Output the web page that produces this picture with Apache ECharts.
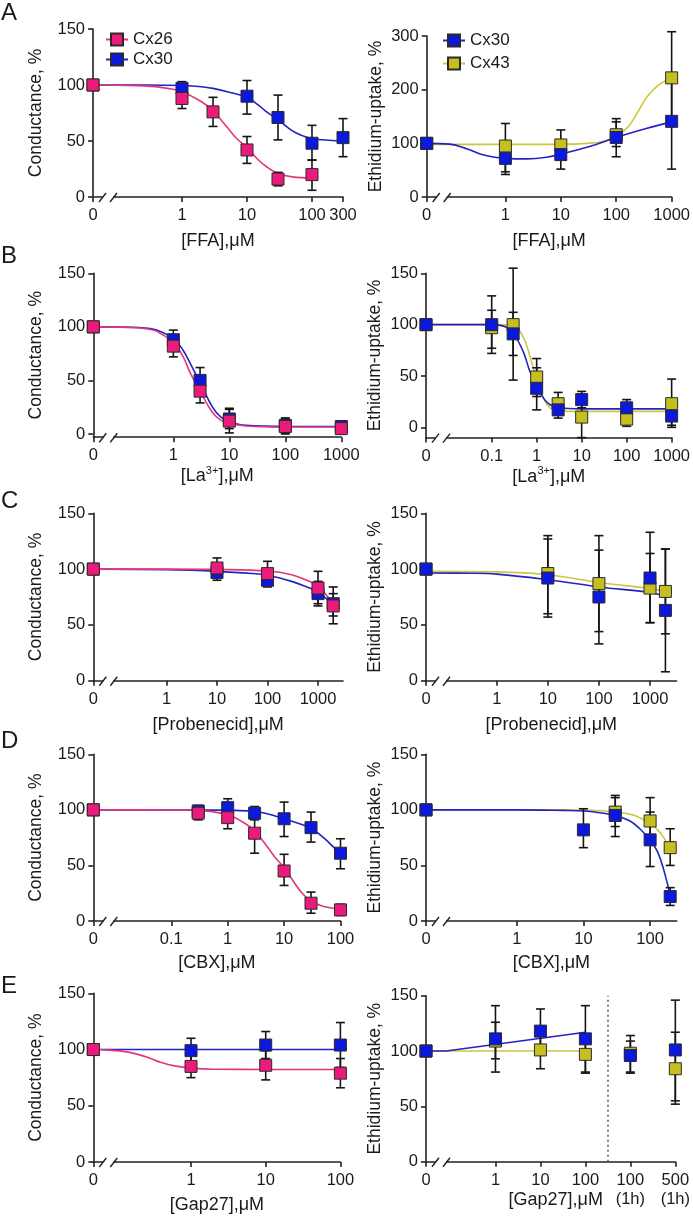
<!DOCTYPE html>
<html><head><meta charset="utf-8">
<script src="https://cdn.jsdelivr.net/npm/echarts@6/dist/echarts.min.js"></script>
<style>html,body{margin:0;padding:0;background:#fff}#c{width:693px;height:1216px}</style>
</head><body><div id="c"></div><script>
// ===== DATA =====
// points: [concentration, mean, errLow, errHigh]; 0 = vehicle (plotted at the axis break)
// fits: [concentration, value]
const Y_TICKS_150 = [0, 50, 100, 150];
const Y_TICKS_300 = [0, 100, 200, 300];
const Y_NAME_LEFT = 'Conductance, %';
const Y_NAME_RIGHT = 'Ethidium-uptake, %';
const X_NAMES = ['[FFA],μM', '[La{sup|3+}],μM', '[Probenecid],μM', '[CBX],μM', '[Gap27],μM'];
const LETTERS = ['A', 'B', 'C', 'D', 'E'];

// A: FFA
const A_L_X_TICKS = [0, 1, 10, 100, 300];
const A_L_CX26 = [[0,100,100,100],[1,88,79,97],[3,76,63,89],[10,42,30,54],[30,16,10,22],[100,20,6,33]];
const A_L_CX30 = [[0,100,100,100],[1,97,91,103],[10,90,74,104],[30,71,51,91],[100,48,33,64],[300,53,36,70]];
const A_L_CX26_FIT = [[0,100],[0.1,99.8],[0.3,99],[0.6,97],[1,94],[2,85],[3,77],[5,62],[7,52],[10,44],[15,33],[20,27],[30,21],[50,18],[100,17]];
const A_L_CX30_FIT = [[0,100],[0.3,100],[1,99.5],[2,98.5],[3,97],[5,94],[10,89],[15,82],[20,76],[30,69],[50,59],[70,55],[100,52],[200,50.5],[300,50]];
const A_R_X_TICKS = [0, 1, 10, 100, 1000];
const A_R_CX30 = [[0,100,100,100],[1,72,42,102],[10,79,52,106],[100,111,75,146],[1000,141,52,230]];
const A_R_CX43 = [[0,100,100,100],[1,95,47,137],[10,97,69,125],[100,116,94,140],[1000,222,136,308]];
const A_R_CX30_FIT = [[0,100],[0.1,98.5],[0.2,90],[0.35,80],[0.6,74.5],[1,72],[2.4,71],[5.5,74],[10,80],[33,94],[100,111],[360,128],[1000,140]];
const A_R_CX43_FIT = [[0,98],[1,98],[10,98],[30,100],[60,104],[100,113],[165,131],[250,160],[360,187],[600,210],[1000,221]];

// B: La3+
const B_L_X_TICKS = [0, 1, 10, 100, 1000];
const B_L_CX26 = [[0,100,100,100],[1,82,72,92],[3,40,29,51],[10,12,1,23],[100,7,0,14],[1000,5,0,11]];
const B_L_CX30 = [[0,100,100,100],[1,88,80,97],[3,50,38,62],[10,14,5,24],[100,8,1,15],[1000,7,1,12]];
const B_L_CX26_FIT = [[0,100],[0.1,99.8],[0.3,98.5],[0.5,96],[1,85],[1.5,72],[2,57],[3,40],[5,20],[7,13],[10,10],[20,7.5],[100,6.5],[1000,6.5]];
const B_L_CX30_FIT = [[0,100],[0.1,99.9],[0.3,99],[0.5,97],[1,89],[1.5,78],[2,66],[3,48],[5,25],[7,16],[10,11.5],[20,8],[100,7],[1000,7]];
const B_R_X_TICKS = [0, 0.1, 1, 10, 100, 1000];
const B_R_CX30 = [[0,100,100,100],[0.1,100,72,128],[0.3,91,70,112],[1,38,17,58],[3,17,9,27],[10,27,19,35],[100,19,11,27],[1000,11,2,20]];
const B_R_CX43 = [[0,100,100,100],[0.1,97,77,114],[0.3,100,46,155],[1,49,30,67],[3,23,12,34],[10,10,-10,30],[100,8,1,15],[1000,23,0,47]];
const B_R_CX30_FIT = [[0,100],[0.1,100],[0.2,98],[0.3,92],[0.5,74],[0.7,55],[1,40],[1.5,27],[2,22],[3,19],[10,18],[1000,18]];
const B_R_CX43_FIT = [[0,100],[0.1,100],[0.3,99],[0.5,88],[0.7,70],[1,46],[1.5,26],[2,19],[3,16],[10,15.5],[1000,15.5]];

// C: Probenecid
const C_L_X_TICKS = [0, 1, 10, 100, 1000];
const C_L_CX26 = [[0,100,100,100],[10,101,92,110],[100,96,86,107],[1000,83,69,98],[2000,67,51,84]];
const C_L_CX30 = [[0,100,100,100],[10,97,90,104],[100,90,84,96],[1000,78,67,89],[2000,69,58,78]];
const C_L_CX26_FIT = [[0,100],[1,100],[10,99.7],[100,98.3],[300,95],[600,90],[1000,85],[1500,76],[2000,69]];
const C_L_CX30_FIT = [[0,100],[1,99.5],[10,98],[50,96],[100,94.5],[300,89],[600,84],[1000,79.5],[1500,73],[2000,69]];
const C_R_X_TICKS = [0, 1, 10, 100, 1000];
const C_R_CX30 = [[0,100,100,100],[10,92,57,127],[100,75,33,117],[1000,92,52,133],[2000,63,8,118]];
const C_R_CX43 = [[0,100,100,100],[10,96,60,130],[100,87,44,130],[1000,83,52,114],[2000,80,42,118]];
const C_R_CX30_FIT = [[0,96.5],[0.3,96.3],[1,95.5],[10,90.5],[100,84],[1000,79],[2000,75.5]];
const C_R_CX43_FIT = [[0,98],[1,97.5],[10,95],[100,88],[1000,82.5],[2000,80]];

// D: CBX
const D_L_X_TICKS = [0, 0.1, 1, 10, 100];
const D_L_CX26 = [[0,100,100,100],[0.3,97,91,103],[1,93,83,103],[3,79,61,97],[10,45,32,60],[30,16,7,26],[100,10,5,15]];
const D_L_CX30 = [[0,100,100,100],[0.3,99,93,104],[1,102,93,110],[3,97,91,103],[10,92,76,107],[30,84,71,98],[100,61,47,74]];
const D_L_CX26_FIT = [[0,100],[0.1,99.9],[0.3,99.5],[0.5,98.5],[1,95.5],[2,88],[3,81],[5,67],[7,57],[10,48],[20,26],[30,18],[50,13],[100,11]];
const D_L_CX30_FIT = [[0,100],[1,99.8],[3,98.5],[5,96.5],[10,92],[20,87],[30,83.5],[50,75],[70,68],[100,60]];
const D_R_X_TICKS = [0, 1, 10, 100];
const D_R_CX30 = [[0,100,100,100],[10,82,66,101],[30,95,76,113],[100,73,49,98],[200,22,14,30]];
const D_R_CX43 = [[0,100,100,100],[30,98,85,111],[100,90,69,111],[200,66,50,83]];
const D_R_CX30_FIT = [[0,100],[1,100],[5,99.5],[10,99],[20,97],[30,95],[50,90],[70,83],[100,73],[130,62],[160,46],[200,23]];
const D_R_CX43_FIT = [[0,100],[1,100],[10,99.8],[20,99],[30,98],[50,96],[70,93],[100,88],[130,82],[160,75],[200,65]];

// E: Gap27
const E_L_X_TICKS = [0, 1, 10, 100];
const E_L_CX26 = [[0,100,100,100],[1,85,75,95],[10,86,73,99],[100,79,66,92]];
const E_L_CX30 = [[0,100,100,100],[1,99,88,110],[10,104,92,116],[100,104,84,124]];
const E_L_CX26_FIT = [[0,100],[0.08,99.5],[0.15,97.5],[0.25,93.5],[0.4,88.5],[0.6,85.5],[1,83.5],[2,82.5],[10,82.3],[100,82.3]];
const E_L_CX30_FIT = [[0,100],[100,100]];
const E_R_X_TICKS = [0, 1, 10, 100, '100 (1h)', '500 (1h)'];
const E_R_CX30 = [[0,100,100,100],[1,111,81,141],[10,118,98,138],[100,111,81,141],['100 (1h)',96,81,114],['500 (1h)',101,55,146]];
const E_R_CX43 = [[0,100,100,100],[1,109,93,126],[10,101,84,118],[100,97,80,114],['100 (1h)',98,80,109],['500 (1h)',84,52,117]];
const E_R_CX30_FIT = [[0,100],[0.08,100],[100,117]];
const E_R_CX43_FIT = [[0,100],[100,100]];

// ===== LAYOUT & STYLE =====
const COLORS = {
  Cx26: {fill: '#EC1A7B', line: '#E2357F'},
  Cx30: {fill: '#0C18DC', line: '#2222C6'},
  Cx43: {fill: '#C7BF1F', line: '#CCC73E'}
};
const FONT = '"Liberation Sans", Arial, Helvetica, sans-serif';
const TXT = '#1a1a1a';
const AX = '#222';

// grid: [left, top, width, height]; xr: [zeroPosition(log10 units), max(log10)]
const PANELS = [
  {row:0, side:'L', grid:[93,29,250,168],   xr:[-1.369, Math.log10(300)], yr:[0,150], yt:Y_TICKS_150, xt:A_L_X_TICKS, gapX:34, series:[['Cx30',A_L_CX30,A_L_CX30_FIT],['Cx26',A_L_CX26,A_L_CX26_FIT]]},
  {row:0, side:'R', grid:[426.7,36,246.7,161], xr:[-1.42, 3], yr:[0,300], yt:Y_TICKS_300, xt:A_R_X_TICKS, gapX:34, series:[['Cx43',A_R_CX43,A_R_CX43_FIT],['Cx30',A_R_CX30,A_R_CX30_FIT]]},
  {row:1, side:'L', grid:[93.3,273.3,248,163.9], xr:[-1.43, 3], yr:[-3,150], yt:Y_TICKS_150, xt:B_L_X_TICKS, gapX:29, series:[['Cx30',B_L_CX30,B_L_CX30_FIT],['Cx26',B_L_CX26,B_L_CX26_FIT]]},
  {row:1, side:'R', grid:[426,273.3,245.7,164.3], xr:[-2.46, 3], yr:[-10,150], yt:Y_TICKS_150, xt:B_R_X_TICKS, gapX:29, series:[['Cx43',B_R_CX43,B_R_CX43_FIT],['Cx30',B_R_CX30,B_R_CX30_FIT]]},
  {row:2, side:'L', grid:[93.3,513.3,249.7,167.4], xr:[-1.45, 3.495], yr:[0,150], yt:Y_TICKS_150, xt:C_L_X_TICKS, gapX:34, series:[['Cx30',C_L_CX30,C_L_CX30_FIT],['Cx26',C_L_CX26,C_L_CX26_FIT]]},
  {row:2, side:'R', grid:[426,513.3,250.6,167.4], xr:[-1.384, 3.52], yr:[0,150], yt:Y_TICKS_150, xt:C_R_X_TICKS, gapX:34, series:[['Cx43',C_R_CX43,C_R_CX43_FIT],['Cx30',C_R_CX30,C_R_CX30_FIT]]},
  {row:3, side:'L', grid:[93.3,754.3,247.2,166.7], xr:[-2.383, 2], yr:[0,150], yt:Y_TICKS_150, xt:D_L_X_TICKS, gapX:32, series:[['Cx30',D_L_CX30,D_L_CX30_FIT],['Cx26',D_L_CX26,D_L_CX26_FIT]]},
  {row:3, side:'R', grid:[426,754.3,250.8,166.7], xr:[-1.36, 2.4], yr:[0,150], yt:Y_TICKS_150, xt:D_R_X_TICKS, gapX:32, series:[['Cx43',D_R_CX43,D_R_CX43_FIT],['Cx30',D_R_CX30,D_R_CX30_FIT]]},
  {row:4, side:'L', grid:[93.3,993.3,247.1,169], xr:[-1.308, 2], yr:[0,150], yt:Y_TICKS_150, xt:E_L_X_TICKS, gapX:33, series:[['Cx30',E_L_CX30,E_L_CX30_FIT],['Cx26',E_L_CX26,E_L_CX26_FIT]]},
  {row:4, side:'R', grid:[426,995.7,251.2,166], xr:[-1.545, 4], yr:[0,150], yt:Y_TICKS_150, xt:E_R_X_TICKS, gapX:28, namePadLeft:10, noSmooth:true, divider:true, series:[['Cx43',E_R_CX43,E_R_CX43_FIT],['Cx30',E_R_CX30,E_R_CX30_FIT]]}
];

// map a concentration (or an extra category) to its position on the log10 axis
function makePos(p) {
  const nums = p.xt.filter(v => typeof v === 'number');
  const lastLog = Math.log10(nums[nums.length - 1]);
  const extras = p.xt.filter(v => typeof v === 'string');
  return v => {
    if (v === 0) return p.xr[0];
    if (typeof v === 'string') return lastLog + 1 + extras.indexOf(v);
    return Math.log10(v);
  };
}

const grids = [], xAxes = [], yAxes = [], curves = [], bars = [], points = [];
PANELS.forEach((p, i) => {
  const pos = makePos(p);
  p.pos = pos;
  const [l, t, w, h] = p.grid;
  grids.push({left: l, top: t, width: w, height: h, containLabel: false});
  const tickPos = p.xt.map(pos);
  const tickLab = p.xt.map(v => typeof v === 'string' ? v.replace(' ', '\n') : String(v));
  xAxes.push({
    type: 'value', gridIndex: i, min: p.xr[0], max: p.xr[1],
    name: X_NAMES[p.row], nameLocation: 'middle', nameGap: p.gapX, nameMoveOverlap: false,
    nameTextStyle: {fontSize: 18, color: TXT, fontFamily: FONT, lineHeight: 20,
      padding: [0, 0, 0, p.namePadLeft || 0],
      rich: {sup: {fontSize: 11, verticalAlign: 'bottom', padding: [0, 0, 10, 0], color: TXT, fontFamily: FONT}}},
    axisLine: {show: true, onZero: false, lineStyle: {color: AX, width: 1.6}},
    axisTick: {show: true, length: 5, inside: false, customValues: tickPos, lineStyle: {color: AX, width: 1.6}},
    axisLabel: {show: true, margin: 9, fontSize: 16.5, lineHeight: 19, color: TXT, fontFamily: FONT, customValues: tickPos,
      formatter: val => { const k = tickPos.findIndex(q => Math.abs(q - val) < 1e-6); return k >= 0 ? tickLab[k] : ''; }},
    splitLine: {show: false}
  });
  yAxes.push({
    type: 'value', gridIndex: i, min: p.yr[0], max: p.yr[1],
    name: p.side === 'L' ? Y_NAME_LEFT : Y_NAME_RIGHT, nameLocation: 'middle', nameRotate: 90,
    nameGap: p.side === 'L' ? 48 : 42, nameMoveOverlap: false,
    nameTextStyle: {fontSize: 17.5, color: TXT, fontFamily: FONT},
    axisLine: {show: true, onZero: false, lineStyle: {color: AX, width: 1.6}},
    axisTick: {show: true, length: 5, customValues: p.yt, lineStyle: {color: AX, width: 1.6}},
    axisLabel: {show: true, margin: 8, fontSize: 16.5, color: TXT, fontFamily: FONT, customValues: p.yt},
    splitLine: {show: false}
  });
  p.series.forEach(([name, pts, fit]) => {
    const c = COLORS[name];
    const s = {
      type: 'line', name: name, xAxisIndex: i, yAxisIndex: i,
      data: fit.map(d => [pos(d[0]), d[1]]),
      smooth: p.noSmooth ? false : 0.4,
      showSymbol: false, symbol: 'rect', symbolSize: 12,
      itemStyle: {color: c.fill, borderColor: '#2a2a2a', borderWidth: 1},
      lineStyle: {color: c.line, width: 1.6},
      silent: true, clip: false, z: 2
    };
    if (p.divider && name === 'Cx43') {
      const split = (pos(100) + pos(E_R_X_TICKS[4])) / 2;
      s.markLine = {silent: true, symbol: 'none', label: {show: false},
        lineStyle: {color: '#555', type: [2, 3], width: 1.5},
        data: [[{coord: [split, p.yr[0]]}, {coord: [split, 150]}]]};
    }
    curves.push(s);
    bars.push({
      type: 'custom', name: name + ' err', xAxisIndex: i, yAxisIndex: i, silent: true, clip: false, z: 3,
      data: pts.filter(d => d[2] !== d[3]).map(d => [pos(d[0]), d[2], d[3]]),
      encode: {x: 0, y: [1, 2]},
      renderItem: (params, api) => {
        const x = api.value(0);
        const a = api.coord([x, api.value(2)]), b = api.coord([x, api.value(1)]);
        const cw = 4.5, st = {stroke: '#151515', lineWidth: 1.6};
        return {type: 'group', children: [
          {type: 'line', shape: {x1: a[0], y1: a[1], x2: b[0], y2: b[1]}, style: st},
          {type: 'line', shape: {x1: a[0] - cw, y1: a[1], x2: a[0] + cw, y2: a[1]}, style: st},
          {type: 'line', shape: {x1: b[0] - cw, y1: b[1], x2: b[0] + cw, y2: b[1]}, style: st}
        ]};
      }
    });
    points.push({
      type: 'scatter', name: name + ' data', xAxisIndex: i, yAxisIndex: i, silent: true, clip: false, z: 4,
      symbol: 'rect', symbolSize: 12,
      itemStyle: {color: c.fill, borderColor: '#2a2a2a', borderWidth: 1, opacity: 1},
      data: pts.map(d => [pos(d[0]), d[1]])
    });
  });
});

const LETTER_TOPS = [1, 244, 489, 729, 974];
const chart = echarts.init(document.getElementById('c'), null, {renderer: 'canvas'});
chart.setOption({
  animation: false,
  backgroundColor: '#fff',
  textStyle: {fontFamily: FONT, color: TXT},
  title: LETTERS.map((L, k) => ({text: L, left: 1, top: LETTER_TOPS[k], padding: 0,
    textStyle: {fontSize: 24, fontWeight: 'normal', color: TXT, fontFamily: FONT}})),
  legend: [
    {data: ['Cx26', 'Cx30'], orient: 'vertical', left: 105, top: 31, itemWidth: 22, itemHeight: 15, itemGap: 3,
      selectedMode: false, padding: 0, textStyle: {fontSize: 17, color: TXT, fontFamily: FONT}},
    {data: ['Cx30', 'Cx43'], orient: 'vertical', left: 442, top: 32, itemWidth: 22, itemHeight: 15, itemGap: 6,
      selectedMode: false, padding: 0, textStyle: {fontSize: 17, color: TXT, fontFamily: FONT}}
  ],
  grid: grids, xAxis: xAxes, yAxis: yAxes,
  series: curves.concat(bars, points)
});

// axis-break marks "//" next to the zero position
const gfx = [];
PANELS.forEach((p, i) => {
  const o = chart.convertToPixel({gridIndex: i}, [p.xr[0], p.yr[0]]);
  const x0 = o[0], y0 = o[1];
  gfx.push({type: 'rect', shape: {x: x0 + 10, y: y0 - 2.5, width: 10, height: 5}, style: {fill: '#fff'}, z: 100});
  gfx.push({type: 'line', shape: {x1: x0 + 6, y1: y0 + 5, x2: x0 + 13, y2: y0 - 4}, style: {stroke: AX, lineWidth: 1.4}, z: 101});
  gfx.push({type: 'line', shape: {x1: x0 + 17, y1: y0 + 5, x2: x0 + 24, y2: y0 - 4}, style: {stroke: AX, lineWidth: 1.4}, z: 101});
});
chart.setOption({graphic: gfx});
</script></body></html>
